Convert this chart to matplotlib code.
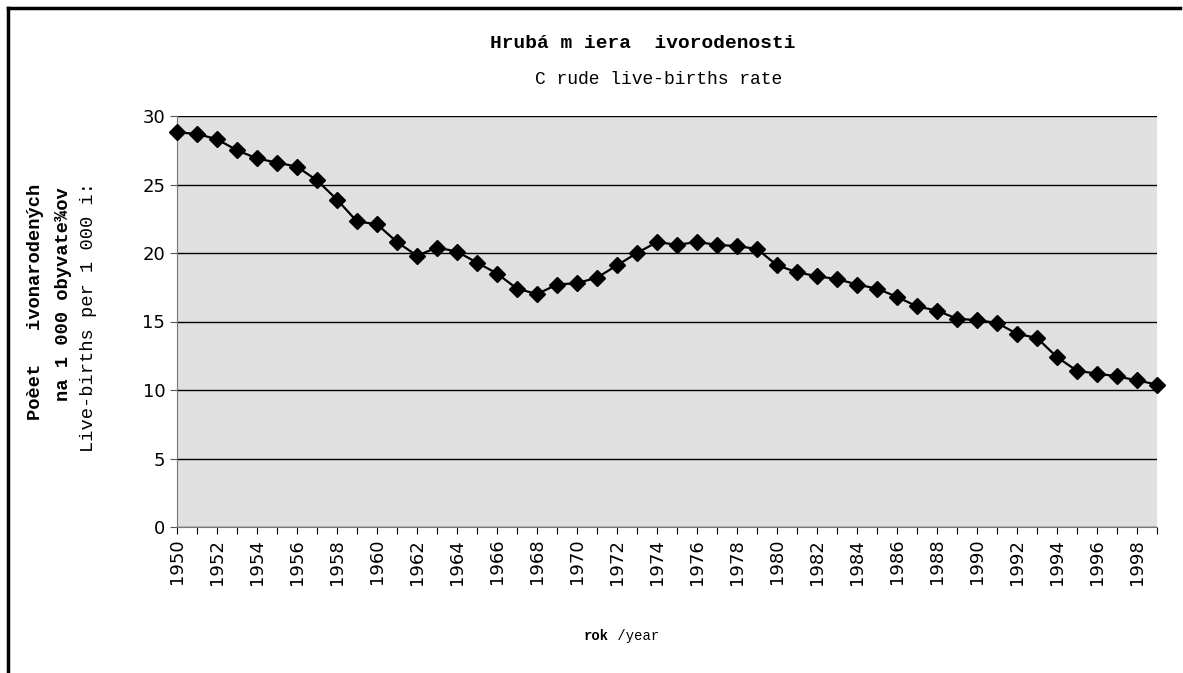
import numpy as np
import matplotlib.pyplot as plt
from matplotlib.lines import Line2D

# hruba miera zivorodenosti, 1950-1999
years = list(range(1950, 2000))
rate = [28.8, 28.7, 28.3, 27.5, 26.9, 26.6, 26.3, 25.3, 23.9, 22.3,
        22.1, 20.8, 19.8, 20.4, 20.1, 19.3, 18.5, 17.4, 17.0, 17.7,
        17.8, 18.2, 19.1, 20.0, 20.8, 20.6, 20.8, 20.6, 20.5, 20.3,
        19.1, 18.6, 18.3, 18.1, 17.7, 17.4, 16.8, 16.1, 15.8, 15.2,
        15.1, 14.9, 14.1, 13.8, 12.4, 11.4, 11.2, 11.0, 10.7, 10.4]
yticks = [0, 5, 10, 15, 20, 25, 30]
xlabels = [str(y) if y % 2 == 0 else '' for y in years]

mono = 'Liberation Mono'

fig = plt.figure(figsize=(11.83, 6.73), dpi=100)
ax = fig.add_axes([177/1183, 146/673, 980/1183, 411/673])
ax.set_facecolor('#e0e0e0')

ax.plot(years, rate, color='black', lw=1.6, marker='D', ms=8, zorder=3, clip_on=False)

ax.set_xlim(1950, 1999)
ax.set_ylim(0, 30)
ax.set_yticks(yticks)
ax.set_xticks(years)
ax.set_xticklabels(xlabels, rotation=90, fontsize=13)
ax.tick_params(axis='y', labelsize=13, length=5, direction='out', color='#555555')
ax.tick_params(axis='x', length=5, direction='out', color='black')
ax.yaxis.grid(True, color='black', lw=1)
ax.set_axisbelow(True)
for s in ['top', 'right']:
    ax.spines[s].set_visible(False)
ax.spines['left'].set_color('#777777')
ax.spines['bottom'].set_color('#777777')

fig.text(643/1183, 1 - 43/673, 'Hrubá m iera  ivorodenosti', family=mono, weight='bold',
         fontsize=14, ha='center', va='center')
fig.text(659/1183, 1 - 80/673, 'C rude live-births rate', family=mono,
         fontsize=13, ha='center', va='center')
fig.text(609/1183, 1 - 636/673, 'rok', family=mono, weight='bold', fontsize=10,
         ha='right', va='center')
fig.text(609/1183, 1 - 636/673, ' /year', family=mono, fontsize=10, ha='left', va='center')

fig.text(36/1183, 1 - 302/673, 'Poèet   ivonarodených', family=mono, weight='bold',
         fontsize=13.5, rotation=90, ha='center', va='center')
fig.text(64/1183, 1 - 294/673, 'na 1 000 obyvate¾ov', family=mono, weight='bold',
         fontsize=13.5, rotation=90, ha='center', va='center')
fig.text(89/1183, 1 - 317/673, 'Live-births per 1 000 i:', family=mono,
         fontsize=13.5, rotation=90, ha='center', va='center')

# ramik okolo grafu (vpravo a dole je orezany)
fig.add_artist(Line2D([8/1183, 8/1183], [0, 1 - 8/673], transform=fig.transFigure,
                      color='black', lw=2.5))
fig.add_artist(Line2D([8/1183, 1180/1183], [1 - 8/673, 1 - 8/673], transform=fig.transFigure,
                      color='black', lw=2.5))

fig.savefig('out.png', dpi=100)
